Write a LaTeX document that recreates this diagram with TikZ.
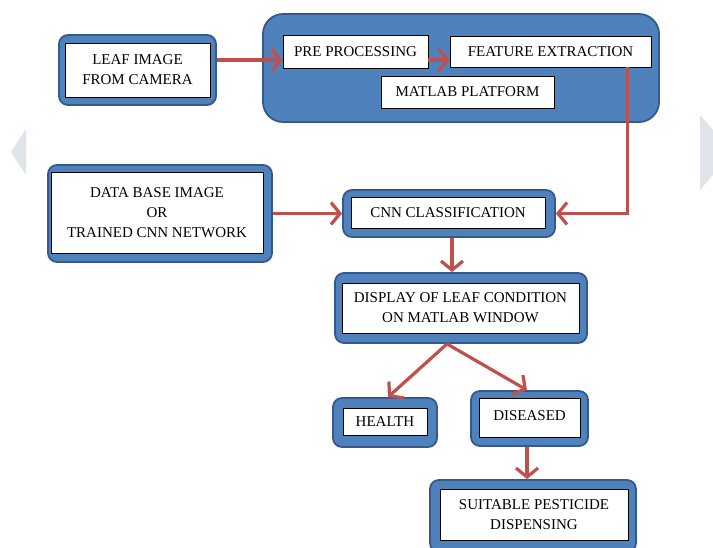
\documentclass[tikz,border=0pt]{standalone}
\usepackage{fontspec}
\setmainfont{Liberation Serif}
\usetikzlibrary{arrows.meta,calc}
\definecolor{blueF}{HTML}{4F81BD}
\definecolor{blueD}{HTML}{34598A}
\definecolor{arrowred}{HTML}{C0504D}
\definecolor{ghost}{HTML}{DEE4EA}
\tikzset{
  outerbox/.style={draw=blueD, fill=blueF, line width=1.8pt, rounded corners=9pt, inner sep=0pt},
  innerbox/.style={draw=black, fill=white, line width=0.9pt, inner sep=0pt, align=center,
                   font=\fontsize{15}{20}\selectfont},
  flow/.style={draw=arrowred, line width=3.2pt, -{Straight Barb[length=9pt,width=22pt]}},
}
\begin{document}
\begin{tikzpicture}[x=1pt,y=-1pt]
\useasboundingbox (0,0) rectangle (713,547);
% faint side marks
\fill[ghost] (26,129) -- (11,152) -- (26,175) -- cycle;
\fill[ghost] (700,115) -- (713,130) -- (713,175) -- (700,190) -- cycle;
% container
\node[outerbox, rounded corners=20pt, minimum width=396pt, minimum height=108pt] (cont) at (461,68) {};
% boxes
\node[outerbox, minimum width=157pt, minimum height=70pt] (leafo) at (137.5,70) {};
\node[innerbox, minimum width=145pt, minimum height=54pt] (leafi) at (137.5,70) {LEAF IMAGE\\FROM CAMERA};
\node[innerbox, minimum width=145pt, minimum height=33pt] (pre) at (355.5,51.5) {PRE PROCESSING};
\node[innerbox, minimum width=201pt, minimum height=31pt] (feat) at (550.5,51.5) {FEATURE EXTRACTION};
\node[innerbox, minimum width=173pt, minimum height=32pt] (mat) at (467.5,92) {MATLAB PLATFORM};
\node[outerbox, minimum width=224pt, minimum height=97pt] (dbo) at (160,213.5) {};
\node[innerbox, minimum width=212pt, minimum height=81pt] (dbi) at (157,212.5) {DATA BASE IMAGE\\OR\\TRAINED CNN NETWORK};
\node[outerbox, minimum width=212pt, minimum height=47pt] (cnno) at (449,213.5) {};
\node[innerbox, minimum width=194pt, minimum height=31pt] (cnni) at (448,212.5) {CNN CLASSIFICATION};
\node[outerbox, minimum width=252pt, minimum height=70pt] (dispo) at (461,308) {};
\node[innerbox, minimum width=237pt, minimum height=50pt] (dispi) at (460.5,308) {DISPLAY OF LEAF CONDITION\\ON MATLAB WINDOW};
\node[outerbox, minimum width=104pt, minimum height=49pt] (healtho) at (385,422.5) {};
\node[innerbox, minimum width=84pt, minimum height=27pt] (healthi) at (385,421.5) {HEALTH};
\node[outerbox, minimum width=117pt, minimum height=55pt] (diso) at (529.5,418.5) {};
\node[innerbox, minimum width=101pt, minimum height=39pt] (disi) at (529.5,417.5) {\raisebox{4pt}{DISEASED}};
\node[outerbox, minimum width=206pt, minimum height=72pt] (pesto) at (533,516) {};
\node[innerbox, minimum width=188pt, minimum height=51pt] (pesti) at (534,514.5) {SUITABLE PESTICIDE\\DISPENSING};
% connectors
\coordinate (p1) at ([yshift=-8.5pt]pre.west);
\draw[flow] (leafo.east |- p1) -- (p1);
\draw[flow] ([yshift=-8.5pt]pre.east) -- ([yshift=-8.5pt]feat.west);
\draw[flow] ([xshift=-24pt]feat.south east) |- (cnno.east);
\draw[flow] (dbo.east |- cnno.west) -- (cnno.west);
\draw[flow] ([xshift=3pt]cnno.south) -- ([xshift=3pt]cnno.south |- dispo.north);
\draw[flow] ([xshift=-14pt]dispo.south) -- ([xshift=3pt]healtho.north);
\draw[flow] ([xshift=-14pt]dispo.south) -- ([xshift=-2.5pt]diso.north);
\draw[flow] ([xshift=-2.5pt]diso.south) -- ([xshift=-2.5pt]diso.south |- pesto.north);
\end{tikzpicture}
\end{document}
